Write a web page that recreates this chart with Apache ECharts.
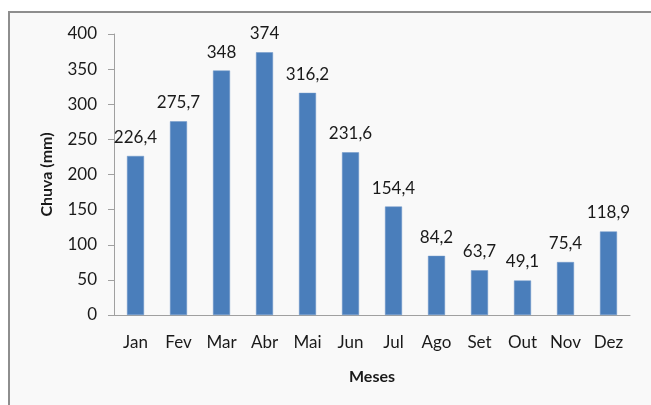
<!DOCTYPE html>
<html>
<head>
<meta charset="utf-8">
<script src="https://cdn.jsdelivr.net/npm/echarts@6/dist/echarts.min.js"></script>
<style>
  html, body { margin: 0; padding: 0; background: #fff; }
  #main { width: 651px; height: 405px; }
</style>
</head>
<body>
<div id="main"></div>
<script>
// dados de chuva mensal
var meses = ["Jan", "Fev", "Mar", "Abr", "Mai", "Jun", "Jul", "Ago", "Set", "Out", "Nov", "Dez"];
var chuva = [226.4, 275.7, 348, 374, 316.2, 231.6, 154.4, 84.2, 63.7, 49.1, 75.4, 118.9];
var yTicks = [0, 50, 100, 150, 200, 250, 300, 350, 400];

var fonte = "Lato, 'Open Sans', sans-serif";
var myChart = echarts.init(document.getElementById("main"));
myChart.setOption({
  animation: false,
  backgroundColor: "#ffffff",
  graphic: [
    {
      type: "rect",
      z: -10,
      silent: true,
      shape: { x: 9, y: 12, width: 700, height: 500 },
      style: { fill: "#f9f9f9", stroke: "#8e8e8e", lineWidth: 2 }
    }
  ],
  grid: { left: 114, right: 21, top: 34, bottom: 90 },
  xAxis: {
    type: "category",
    data: meses,
    name: "Meses",
    nameLocation: "middle",
    nameGap: 54,
    nameTextStyle: { fontFamily: fonte, fontWeight: "bold", fontSize: 16, color: "#1a1a1a" },
    axisLine: { lineStyle: { color: "#a0a0a0", width: 1 } },
    axisTick: { show: false },
    axisLabel: { fontFamily: fonte, fontSize: 17, color: "#1a1a1a", margin: 19 }
  },
  yAxis: {
    type: "value",
    min: yTicks[0],
    max: yTicks[yTicks.length - 1],
    interval: 50,
    name: "Chuva (mm)",
    nameLocation: "middle",
    nameGap: 59,
    nameRotate: 90,
    nameTextStyle: { fontFamily: fonte, fontWeight: "bold", fontSize: 16, color: "#1a1a1a" },
    axisLine: { show: true, lineStyle: { color: "#a0a0a0", width: 1 } },
    axisTick: { show: true, inside: false, length: 6, lineStyle: { color: "#a0a0a0" } },
    axisLabel: { fontFamily: fonte, fontSize: 17, color: "#1a1a1a", margin: 17 },
    splitLine: { show: false }
  },
  series: [
    {
      type: "bar",
      data: chuva,
      barWidth: 17,
      itemStyle: { color: "#4a7ebb", borderColor: "#6f97c8", borderWidth: 0.5 },
      label: {
        show: true,
        position: "top",
        distance: 10,
        fontFamily: fonte,
        fontSize: 17,
        color: "#1a1a1a",
        formatter: function (p) { return String(p.value).replace(".", ","); }
      }
    }
  ]
});
</script>
</body>
</html>
